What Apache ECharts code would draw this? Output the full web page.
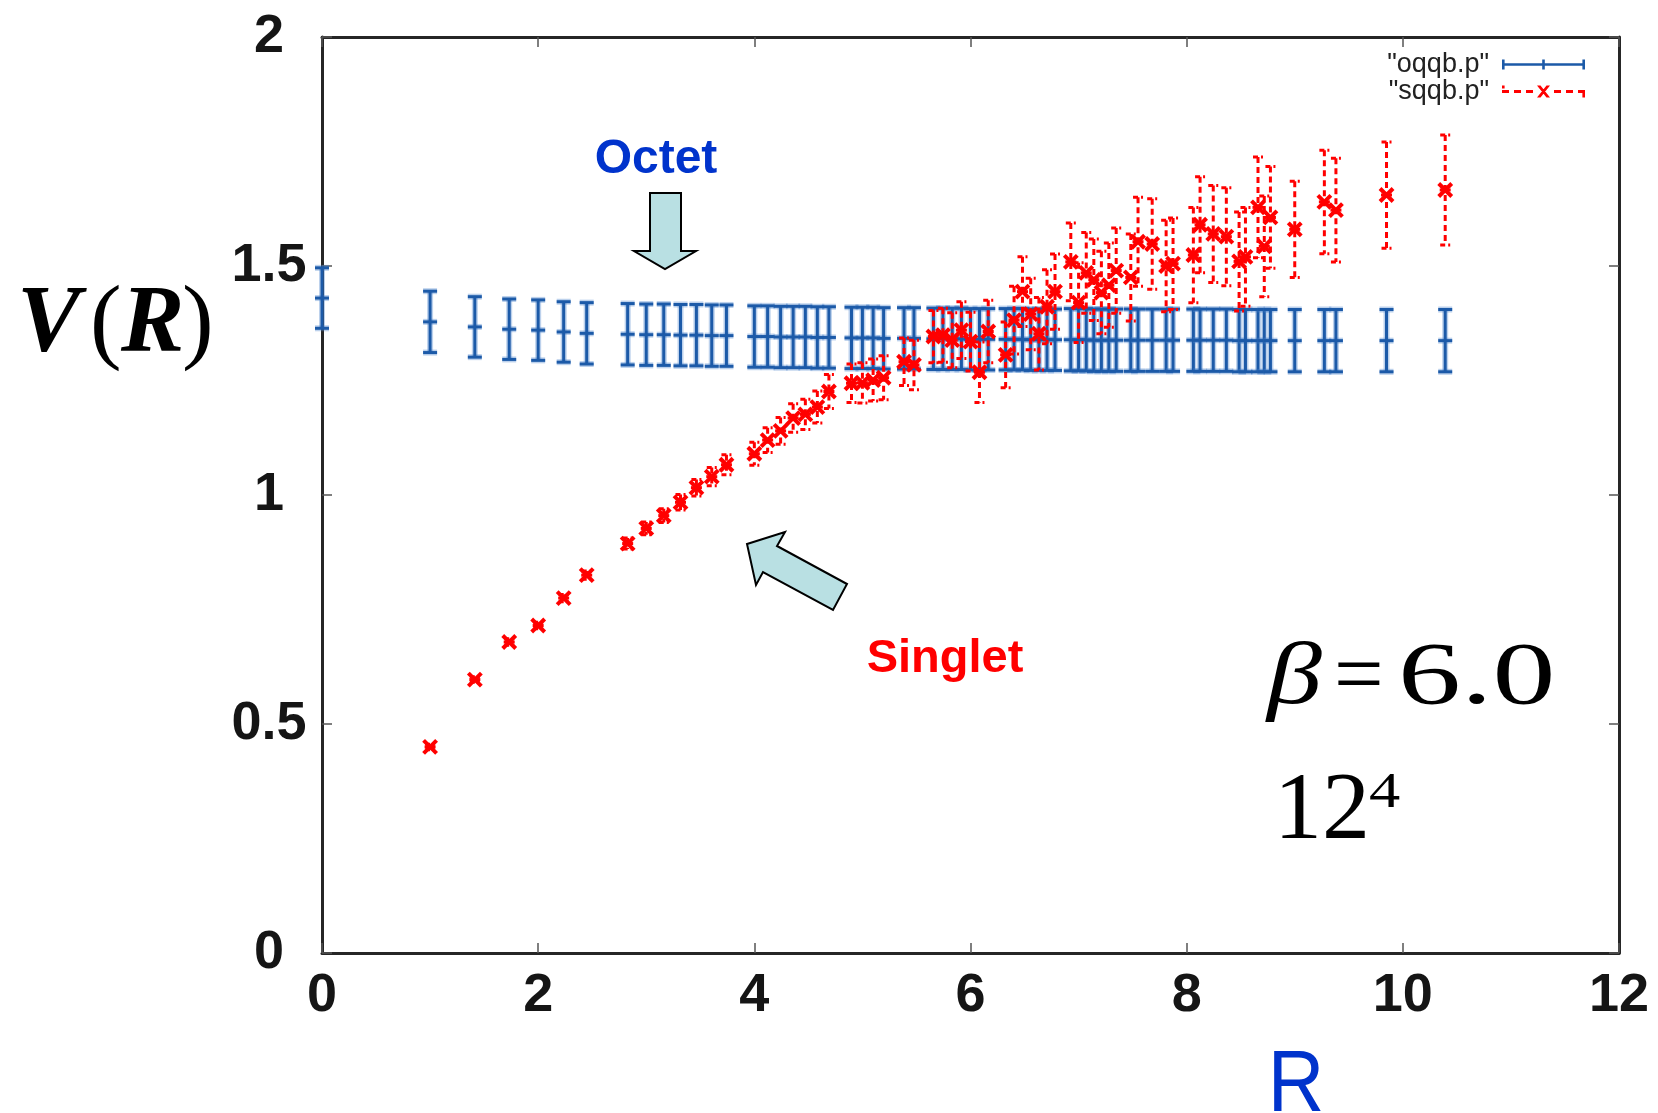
<!DOCTYPE html>
<html><head><meta charset="utf-8">
<script src="https://cdn.jsdelivr.net/npm/echarts@6/dist/echarts.min.js"></script>
<style>html,body{margin:0;padding:0;background:#fff}#c{width:1658px;height:1113px}</style>
</head><body><div id="c"></div>
<script>
// ---- data ----
const octetR = [0, 1, 1.414, 1.732, 2, 2.236, 2.449, 2.828, 3, 3.162, 3.317, 3.464, 3.606, 3.742,
  4, 4.123, 4.243, 4.359, 4.472, 4.583, 4.690, 4.899, 5, 5.099, 5.196, 5.385, 5.477,
  5.657, 5.745, 5.831, 5.916, 6, 6.083, 6.164, 6.325, 6.403, 6.481, 6.557, 6.633, 6.708, 6.782,
  6.928, 7, 7.071, 7.141, 7.211, 7.280, 7.348, 7.483, 7.550, 7.681, 7.810, 7.874,
  8.062, 8.124, 8.246, 8.367, 8.485, 8.544, 8.660, 8.718, 8.775, 9, 9.274, 9.381, 9.849, 10.392];
const octetV = [1.430, 1.378, 1.367, 1.362, 1.360, 1.356, 1.353, 1.351, 1.350, 1.350, 1.349, 1.349, 1.348, 1.348,
  1.346, 1.346, 1.345, 1.345, 1.345, 1.344, 1.344, 1.343, 1.343, 1.343, 1.342, 1.342, 1.342,
  1.341, 1.341, 1.341, 1.341, 1.340, 1.340, 1.340, 1.340, 1.340, 1.340, 1.339, 1.339, 1.339, 1.339,
  1.339, 1.339, 1.339, 1.338, 1.338, 1.338, 1.338, 1.338, 1.338, 1.338, 1.338, 1.338,
  1.338, 1.338, 1.338, 1.338, 1.337, 1.337, 1.337, 1.337, 1.337, 1.337, 1.337, 1.337, 1.337, 1.337];
const octetErr = [0.066, 0.067, 0.066, 0.066, 0.066, 0.066, 0.067, 0.067, 0.067, 0.067, 0.067, 0.067, 0.067, 0.067,
  0.067, 0.067, 0.067, 0.067, 0.067, 0.067, 0.067, 0.067, 0.067, 0.067, 0.067, 0.067, 0.067,
  0.067, 0.067, 0.067, 0.067, 0.067, 0.067, 0.067, 0.067, 0.067, 0.067, 0.067, 0.067, 0.067, 0.067,
  0.068, 0.068, 0.068, 0.068, 0.068, 0.068, 0.068, 0.068, 0.068, 0.068, 0.068, 0.068,
  0.068, 0.068, 0.068, 0.068, 0.068, 0.068, 0.068, 0.068, 0.068, 0.068, 0.068, 0.068, 0.068, 0.068];

const singletR = [1, 1.414, 1.732, 2, 2.236, 2.449, 2.828, 3, 3.162, 3.317, 3.464, 3.606, 3.742,
  4, 4.123, 4.243, 4.359, 4.472, 4.583, 4.690, 4.899, 5, 5.099, 5.196, 5.385, 5.477,
  5.657, 5.745, 5.831, 5.916, 6, 6.083, 6.164, 6.325, 6.403, 6.481, 6.557, 6.633, 6.708, 6.782,
  6.928, 7, 7.071, 7.141, 7.211, 7.280, 7.348, 7.483, 7.550, 7.681, 7.810, 7.874,
  8.062, 8.124, 8.246, 8.367, 8.485, 8.544, 8.660, 8.718, 8.775, 9, 9.274, 9.381, 9.849, 10.392];
const singletV = [0.450, 0.597, 0.679, 0.715, 0.775, 0.825, 0.894, 0.927, 0.955, 0.984, 1.016, 1.040, 1.066,
  1.090, 1.120, 1.140, 1.168, 1.176, 1.192, 1.226, 1.244, 1.245, 1.251, 1.256, 1.291, 1.284,
  1.346, 1.349, 1.338, 1.360, 1.335, 1.268, 1.357, 1.306, 1.382, 1.444, 1.395, 1.352, 1.411, 1.444,
  1.509, 1.420, 1.485, 1.470, 1.442, 1.458, 1.490, 1.475, 1.553, 1.548, 1.500, 1.505,
  1.524, 1.590, 1.570, 1.564, 1.510, 1.520, 1.628, 1.543, 1.606, 1.580, 1.640, 1.622, 1.655, 1.666];
const singletErr = [0.006, 0.006, 0.007, 0.007, 0.008, 0.009, 0.012, 0.014, 0.015, 0.017, 0.018, 0.020, 0.022,
  0.025, 0.027, 0.029, 0.031, 0.033, 0.035, 0.037, 0.042, 0.044, 0.046, 0.048, 0.052, 0.054,
  0.057, 0.059, 0.060, 0.062, 0.064, 0.066, 0.068, 0.072, 0.074, 0.076, 0.078, 0.079, 0.081, 0.082,
  0.085, 0.087, 0.088, 0.089, 0.090, 0.092, 0.093, 0.095, 0.097, 0.099, 0.100, 0.100,
  0.104, 0.105, 0.106, 0.107, 0.108, 0.108, 0.110, 0.110, 0.111, 0.105, 0.113, 0.113, 0.116, 0.120];

const seriesNames = ['"oqqb.p"', '"sqqb.p"'];
const xMin = 0, xMax = 12, xStep = 2;
const yMin = 0, yMax = 2, yStep = 0.5;

// ---- styling ----
const BLUE = '#1c5aa8', BLUE_HALO = 'rgba(80,135,205,0.38)', RED = '#ff0000';

const octetData = octetR.map((r, i) => [r, octetV[i], octetErr[i]]);
const singletData = singletR.map((r, i) => [r, singletV[i], singletErr[i]]);

function octetItem(params, api) {
  const x = api.value(0), y = api.value(1), e = api.value(2);
  const c = api.coord([x, y]), t = api.coord([x, y + e]), b = api.coord([x, y - e]);
  const w = 7;
  const mk = (stroke, lw) => [
    {type: 'line', shape: {x1: c[0], y1: t[1], x2: c[0], y2: b[1]}, style: {stroke, lineWidth: lw}},
    {type: 'line', shape: {x1: c[0] - w, y1: t[1], x2: c[0] + w, y2: t[1]}, style: {stroke, lineWidth: lw}},
    {type: 'line', shape: {x1: c[0] - w, y1: b[1], x2: c[0] + w, y2: b[1]}, style: {stroke, lineWidth: lw}},
    {type: 'line', shape: {x1: c[0] - w, y1: c[1], x2: c[0] + w, y2: c[1]}, style: {stroke, lineWidth: lw}}
  ];
  return {type: 'group', children: mk(BLUE_HALO, 6).concat(mk(BLUE, 3))};
}

function singletItem(params, api) {
  const x = api.value(0), y = api.value(1), e = api.value(2);
  const c = api.coord([x, y]), t = api.coord([x, y + e]), b = api.coord([x, y - e]);
  const w = 5, s = 6.5;
  return {type: 'group', children: [
    {type: 'line', shape: {x1: c[0], y1: t[1], x2: c[0], y2: b[1]}, style: {stroke: RED, lineWidth: 3, lineDash: [6, 4]}},
    {type: 'line', shape: {x1: c[0] - w, y1: t[1], x2: c[0] + w, y2: t[1]}, style: {stroke: RED, lineWidth: 3, lineDash: [5, 3]}},
    {type: 'line', shape: {x1: c[0] - w, y1: b[1], x2: c[0] + w, y2: b[1]}, style: {stroke: RED, lineWidth: 3, lineDash: [5, 3]}},
    {type: 'line', shape: {x1: c[0] - s, y1: c[1] - s, x2: c[0] + s, y2: c[1] + s}, style: {stroke: RED, lineWidth: 4}},
    {type: 'line', shape: {x1: c[0] - s, y1: c[1] + s, x2: c[0] + s, y2: c[1] - s}, style: {stroke: RED, lineWidth: 4}},
    {type: 'line', shape: {x1: c[0] - s + 1, y1: c[1], x2: c[0] + s - 1, y2: c[1]}, style: {stroke: RED, lineWidth: 3}}
  ]};
}

const octetIcon = 'path://M0,5.8H83V8.2H0Z M0,2H2.6V12H0Z M80.4,2H83V12H80.4Z M40.2,2H42.8V12H40.2Z';
const singletIcon = 'path://M0,5.6H7V8.4H0Z M12,5.6H19V8.4H12Z M24,5.6H31V8.4H24Z M52,5.6H59V8.4H52Z M64,5.6H71V8.4H64Z M76,5.6H83V8.4H76Z M80.4,8H83V13H80.4Z M35,1H38.5L48,13H44.5Z M44.5,1H48L38.5,13H35Z M0,1H2.6V4H0Z';

const axisLineStyle = {color: '#262626', width: 3};
const tickStyle = {color: '#555', width: 1.5};
const labelFont = '"Liberation Sans", Arial, Helvetica, sans-serif';
const serif = '"Liberation Serif", "Times New Roman", serif';

const chart = echarts.init(document.getElementById('c'), null, {renderer: 'canvas'});
chart.setOption({
  backgroundColor: '#fff',
  animation: false,
  grid: {left: 322, right: 39, top: 37, bottom: 160, containLabel: false},
  xAxis: [
    {type: 'value', min: xMin, max: xMax, interval: xStep, position: 'bottom',
      axisLine: {show: true, onZero: false, lineStyle: axisLineStyle},
      axisTick: {show: true, inside: true, length: 10, lineStyle: tickStyle},
      axisLabel: {fontSize: 54, fontWeight: 'bold', color: '#151515', fontFamily: labelFont, margin: 16},
      splitLine: {show: false}},
    {type: 'value', min: xMin, max: xMax, interval: xStep, position: 'top',
      axisLine: {show: true, onZero: false, lineStyle: axisLineStyle},
      axisTick: {show: true, inside: true, length: 10, lineStyle: tickStyle},
      axisLabel: {show: false}, splitLine: {show: false}}
  ],
  yAxis: [
    {type: 'value', min: yMin, max: yMax, interval: yStep, position: 'left',
      axisLine: {show: true, onZero: false, lineStyle: axisLineStyle},
      axisTick: {show: true, inside: true, length: 10, lineStyle: tickStyle},
      axisLabel: {fontSize: 54, fontWeight: 'bold', color: '#151515', fontFamily: labelFont, margin: 53, align: 'center'},
      splitLine: {show: false}},
    {type: 'value', min: yMin, max: yMax, interval: yStep, position: 'right',
      axisLine: {show: true, onZero: false, lineStyle: axisLineStyle},
      axisTick: {show: true, inside: true, length: 10, lineStyle: tickStyle},
      axisLabel: {show: false}, splitLine: {show: false}}
  ],
  legend: {
    orient: 'vertical', right: 73, top: 51, align: 'right', padding: 0,
    itemWidth: 83, itemHeight: 14, itemGap: 0, selectedMode: false,
    textStyle: {fontFamily: labelFont, fontSize: 27, lineHeight: 27, color: '#222', padding: [0, 8, 0, 0]},
    data: [
      {name: seriesNames[0], icon: octetIcon, itemStyle: {color: BLUE}},
      {name: seriesNames[1], icon: singletIcon, itemStyle: {color: RED}}
    ]
  },
  series: [
    {name: seriesNames[0], type: 'custom', renderItem: octetItem, data: octetData,
      encode: {x: 0, y: 1}, itemStyle: {color: BLUE}, z: 2},
    {name: seriesNames[1], type: 'custom', renderItem: singletItem, data: singletData,
      encode: {x: 0, y: 1}, itemStyle: {color: RED}, z: 3}
  ],
  graphic: [
    // y-axis title V(R)
    {type: 'text', x: 17, y: 326, style: {text: 'V', font: 'italic bold 95px ' + serif, fill: '#000', align: 'left', verticalAlign: 'middle'}},
    {type: 'text', x: 90, y: 326, style: {text: '(', font: '95px ' + serif, fill: '#000', align: 'left', verticalAlign: 'middle'}},
    {type: 'text', x: 121, y: 326, style: {text: 'R', font: 'italic bold 95px ' + serif, fill: '#000', align: 'left', verticalAlign: 'middle'}},
    {type: 'text', x: 182, y: 326, style: {text: ')', font: '95px ' + serif, fill: '#000', align: 'left', verticalAlign: 'middle'}},
    // x-axis title R
    {type: 'text', x: 1296, y: 1087, scaleX: 0.9, style: {text: 'R', font: '87px ' + labelFont, fill: '#0033cc', align: 'center', verticalAlign: 'middle'}},
    // annotations
    {type: 'text', x: 656, y: 160, style: {text: 'Octet', font: 'bold 48px ' + labelFont, fill: '#0033cc', align: 'center', verticalAlign: 'middle'}},
    {type: 'text', x: 945, y: 659, style: {text: 'Singlet', font: 'bold 47px ' + labelFont, fill: '#ff0000', align: 'center', verticalAlign: 'middle'}},
    {type: 'polygon', shape: {points: [[650, 193], [681, 193], [681, 251], [696, 251], [665, 269], [634, 251], [650, 251]]},
      style: {fill: '#b9e0e3', stroke: '#000', lineWidth: 2}},
    {type: 'polygon', shape: {points: [[747, 544], [785, 532], [777, 546], [847, 584], [833, 610], [763, 572], [756, 585]]},
      style: {fill: '#b9e0e3', stroke: '#000', lineWidth: 2}},
    {type: 'text', x: 1267, y: 680, scaleX: 1.25, style: {text: 'β', font: 'italic 88px ' + serif, fill: '#000', align: 'left', verticalAlign: 'middle'}},
    {type: 'text', x: 1334, y: 680, scaleX: 1.0, style: {text: '=', font: '88px ' + serif, fill: '#000', align: 'left', verticalAlign: 'middle'}},
    {type: 'text', x: 1398, y: 680, scaleX: 1.43, style: {text: '6.0', font: '88px ' + serif, fill: '#000', align: 'left', verticalAlign: 'middle'}},
    {type: 'text', x: 1274, y: 813, style: {text: '12', font: '96px ' + serif, fill: '#000', align: 'left', verticalAlign: 'middle'}},
    {type: 'text', x: 1369, y: 794, scaleX: 1.25, style: {text: '4', font: '50px ' + serif, fill: '#000', align: 'left', verticalAlign: 'middle'}}
  ]
});
</script></body></html>
